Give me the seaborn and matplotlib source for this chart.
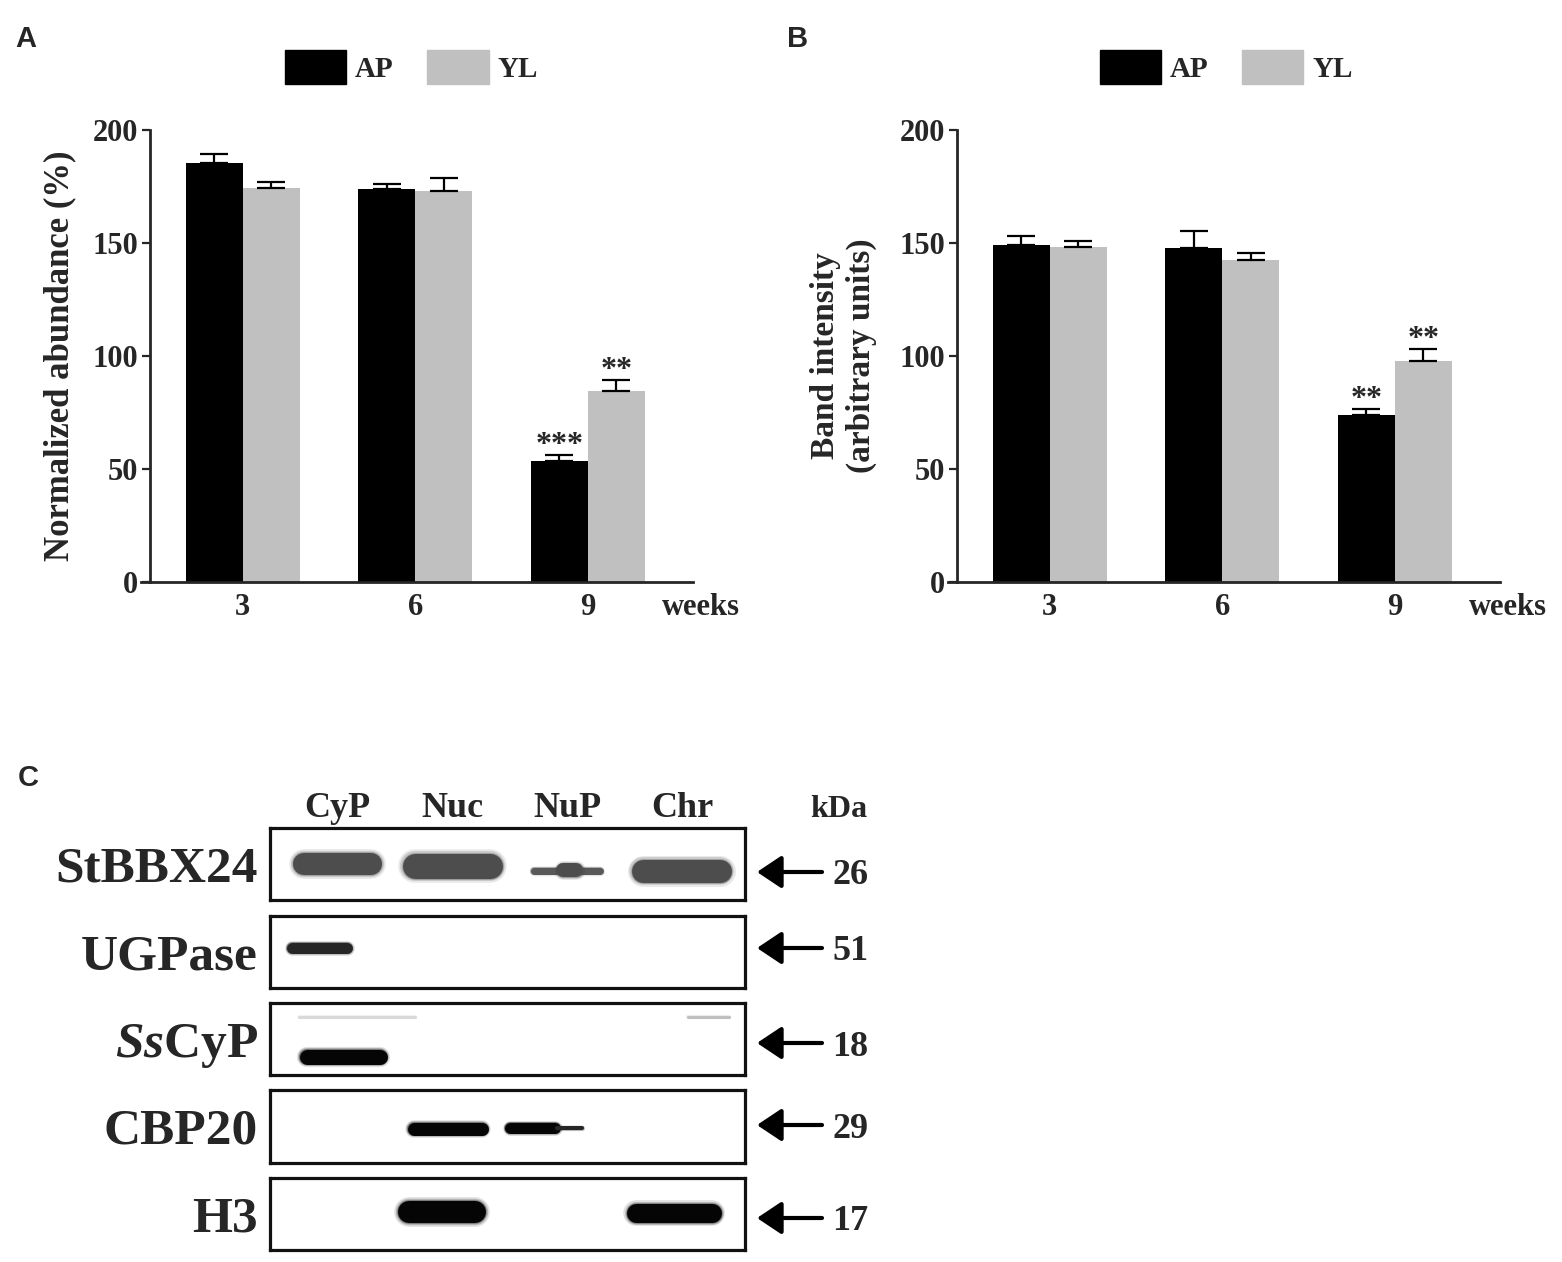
import numpy as np
import pandas as pd
import matplotlib
matplotlib.use("Agg")
import matplotlib.pyplot as plt
from matplotlib.patches import Patch
import seaborn as sns

# ---- data ----
weeks = ["3", "6", "9"]
groups = ["AP", "YL"]

# panel A: normalized abundance (%)
abund_ap = [185.2, 173.8, 53.6]
abund_yl = [174.4, 173.1, 84.4]
abund_ap_err = [4.2, 2.2, 2.7]
abund_yl_err = [2.7, 5.6, 5.2]
abund_ap_sig = ["", "", "***"]
abund_yl_sig = ["", "", "**"]

# panel B: band intensity (arbitrary units)
band_ap = [149.3, 147.9, 73.9]
band_yl = [148.1, 142.5, 97.9]
band_ap_err = [3.8, 7.2, 2.6]
band_yl_err = [2.9, 2.9, 5.4]
band_ap_sig = ["", "", "**"]
band_yl_sig = ["", "", "**"]

# panel C: western blot
lanes = ["CyP", "Nuc", "NuP", "Chr"]
proteins = ["StBBX24", "UGPase", r"$\mathit{Ss}$CyP", "CBP20", "H3"]
kda = ["26", "51", "18", "29", "17"]
# one entry per band: row (protein), lane, shift / length in lane units,
# thickness in px, level in strip (0 top, 1 bottom), grey shade (0 = black)
band_row = [0, 0, 0, 0, 0, 1, 2, 2, 2, 3, 3, 3, 4, 4]
band_lane = [0, 1, 2, 2, 3, 0, 0, 0, 3, 1, 2, 2, 1, 3]
band_shift = [0.0, 0.0, 0.0, 0.02, 0.0, -0.16, 0.05, 0.17, 0.23, -0.04, -0.30, 0.02, -0.09, -0.07]
band_len = [0.78, 0.87, 0.64, 0.24, 0.87, 0.57, 0.77, 1.04, 0.38, 0.70, 0.49, 0.26, 0.76, 0.83]
band_thick = [22, 25, 7, 14, 23, 11, 15, 3, 3, 13, 11, 4, 22, 19]
band_level = [0.50, 0.53, 0.60, 0.58, 0.60, 0.44, 0.75, 0.19, 0.19, 0.53, 0.52, 0.52, 0.47, 0.49]
band_shade = [0.30, 0.30, 0.35, 0.30, 0.30, 0.15, 0.02, 0.85, 0.75, 0.02, 0.02, 0.15, 0.02, 0.02]

W, H = 1562, 1262
DPI = 100


def px_axes(l, t, r, b):
    return [l / W, 1 - b / H, (r - l) / W, (b - t) / H]


sns.set_style("ticks")
plt.rcParams["font.family"] = "Liberation Serif"
plt.rcParams["font.weight"] = "bold"
plt.rcParams["mathtext.fontset"] = "custom"
plt.rcParams["mathtext.it"] = "Liberation Serif:italic:bold"
plt.rcParams["mathtext.rm"] = "Liberation Serif:bold"

fig = plt.figure(figsize=(W / DPI, H / DPI), dpi=DPI)
colors = {"AP": "#000000", "YL": "#c0c0c0"}


def bar_panel(ax, ap, yl, ap_err, yl_err, ap_sig, yl_sig, ylabel, lab_x, lab_size):
    df = pd.DataFrame({
        "week": weeks * 2,
        "group": ["AP"] * 3 + ["YL"] * 3,
        "value": list(ap) + list(yl),
    })
    sns.barplot(data=df, x="week", y="value", hue="group", order=weeks,
                hue_order=groups, palette=colors, width=0.66, errorbar=None,
                linewidth=0, legend=False, ax=ax)
    errs = list(ap_err) + list(yl_err)
    sigs = list(ap_sig) + list(yl_sig)
    bars = [p for p in ax.patches if p.get_height() > 0]
    for p, e, s in zip(bars, errs, sigs):
        xc = p.get_x() + p.get_width() / 2
        top = p.get_height()
        ax.errorbar(xc, top, yerr=[[0], [e]], fmt="none", ecolor="black",
                    elinewidth=1.6, capsize=10, capthick=1.6)
        if s:
            ax.text(xc, top + e + 0.8, s, ha="center", va="baseline",
                    fontsize=23, fontweight="bold")
    ax.set_xlim(-0.59, 2.61)
    ax.set_ylim(0, 200)
    ax.set_yticks([0, 50, 100, 150, 200])
    ax.spines["left"].set_position(("data", -0.535))
    ax.spines["top"].set_visible(False)
    ax.spines["right"].set_visible(False)
    for sp in ("left", "bottom"):
        ax.spines[sp].set_linewidth(2)
    ax.tick_params(axis="y", length=6, width=1.6, pad=3, labelsize=22)
    ax.tick_params(axis="x", length=0, pad=8, labelsize=22)
    ax.set_xlabel("")
    ax.set_ylabel(ylabel, fontsize=lab_size, fontweight="bold", multialignment="center")
    ax.yaxis.set_label_coords(lab_x, 0.5)
    ax.annotate("weeks", xy=(2.43, 0), xycoords=("data", "axes fraction"),
                xytext=(0, -8), textcoords="offset points", ha="left",
                va="top", fontsize=22, fontweight="bold", annotation_clip=False)
    handles = [Patch(color=colors[g]) for g in groups]
    return handles


legend_kw = dict(ncol=2, frameon=False, fontsize=21, handlelength=2.1,
                 handleheight=1.45, handletextpad=0.3, columnspacing=1.15,
                 borderpad=0, borderaxespad=0, loc="center left")

ax_a = fig.add_axes(px_axes(141, 130, 693, 582))
h = bar_panel(ax_a, abund_ap, abund_yl, abund_ap_err, abund_yl_err,
              abund_ap_sig, abund_yl_sig, "Normalized abundance (%)", -0.117, 25)
ax_a.legend(h, groups, bbox_to_anchor=(0.261, 1.139), **legend_kw)

ax_b = fig.add_axes(px_axes(948, 130, 1500, 582))
h = bar_panel(ax_b, band_ap, band_yl, band_ap_err, band_yl_err,
              band_ap_sig, band_yl_sig, "Band intensity\n(arbitrary units)", -0.128, 24)
ax_b.legend(h, groups, bbox_to_anchor=(0.275, 1.139), **legend_kw)

# panel letters
for letter, (x, y) in zip("ABC", [(15, 47), (787, 47), (18, 786)]):
    fig.text(x / W, 1 - y / H, letter, fontsize=21, fontweight="bold",
             family="Liberation Sans", ha="left", va="baseline")

# ---- panel C: blot strips ----
strips = [(828, 900), (916, 988), (1003, 1075), (1090, 1163), (1178, 1250)]
arrow_y = [872, 948, 1043, 1125, 1218]
lane_px = 115.0
strip_axes = []
for i, (t, b) in enumerate(strips):
    ax = fig.add_axes(px_axes(270, t, 745, b))
    ax.set_xlim(-0.59, 3.55)
    ax.set_ylim(1, 0)
    ax.set_xticks([])
    ax.set_yticks([])
    for sp in ax.spines.values():
        sp.set_visible(True)
        sp.set_linewidth(2.3)
        sp.set_color("#111111")
    ax.text(-0.025, 0.5, proteins[i], transform=ax.transAxes, ha="right",
            va="center_baseline", fontsize=37, fontweight="bold")
    strip_axes.append(ax)

# soft-edged bands: a few widening, fading layers under a solid core
for r, ln, sh, le, th, lv, sd in zip(band_row, band_lane, band_shift, band_len,
                                     band_thick, band_level, band_shade):
    ax = strip_axes[r]
    xc = ln + sh
    half = max((le - th / lane_px) / 2, 0.005)
    col = str(sd)
    for grow, a in [(1.35, 0.12), (1.2, 0.2), (1.08, 0.35), (1.0, 1.0)]:
        ax.plot([xc - half, xc + half], [lv, lv], color=col, alpha=a,
                lw=th * 0.72 * grow, solid_capstyle="round")

# lane labels
for i, name in enumerate(lanes):
    strip_axes[0].text(i, (900 - 817) / 72, name, transform=strip_axes[0].get_xaxis_transform(),
                       ha="center", va="baseline", fontsize=26, fontweight="bold")
fig.text(810 / W, 1 - 817 / H, "kDa", fontsize=23, fontweight="bold",
         ha="left", va="baseline")

# arrows and molecular weights
for y, k in zip(arrow_y, kda):
    strip_axes[0].annotate("", xy=(757 / W, 1 - y / H), xycoords="figure fraction",
                           xytext=(822 / W, 1 - y / H), textcoords="figure fraction",
                           arrowprops=dict(arrowstyle="-|>,head_length=0.75,head_width=0.5",
                                           mutation_scale=20, lw=3, color="black",
                                           shrinkA=0, shrinkB=0),
                           annotation_clip=False)
    fig.text(832 / W, 1 - y / H, k, fontsize=26, fontweight="bold",
             ha="left", va="center_baseline")

fig.savefig("out.png", dpi=DPI, facecolor="white")
